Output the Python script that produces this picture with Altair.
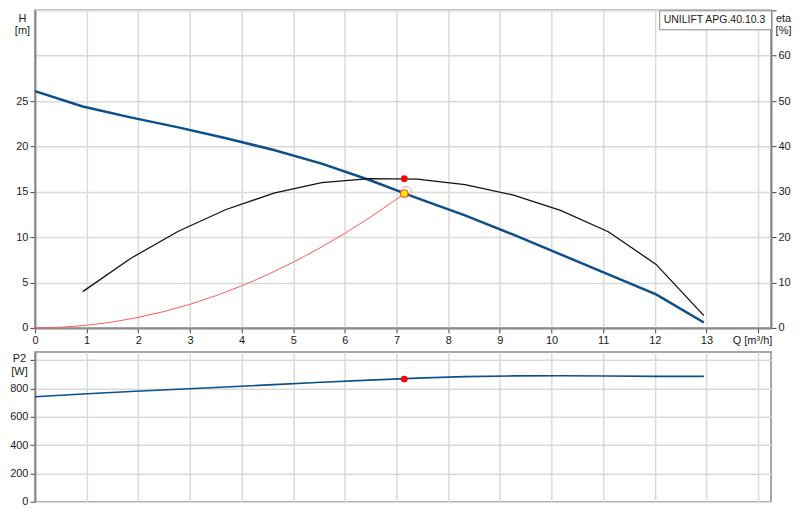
import altair as alt
import pandas as pd

model_name = "UNILIFT APG.40.10.3"

# pump curve nodes (flow in m³/h)
q_nodes = [0, 0.925, 1.85, 2.775, 3.7, 4.625, 5.55, 6.475, 7.4, 8.325, 9.25, 10.175, 11.1, 12.025, 12.95]
head_m = [26.1, 24.4, 23.2, 22.1, 20.9, 19.6, 18.1, 16.3, 14.3, 12.4, 10.3, 8.1, 5.9, 3.7, 0.6]
p2_w = [743, 762, 780, 796, 812, 828, 845, 860, 874, 885, 890, 891, 889, 887, 887]

q_eta = [0.925, 1.85, 2.775, 3.7, 4.625, 5.55, 6.475, 7.4, 8.325, 9.25, 10.175, 11.1, 12.025, 12.95]
eta_pct = [8.0, 15.3, 21.3, 26.1, 29.7, 32.0, 32.9, 32.8, 31.6, 29.3, 25.9, 21.2, 14.0, 2.7]

# system curve (red)
q_sys = [0, 0.5, 1, 1.5, 2, 2.5, 3, 3.5, 4, 4.5, 5, 5.5, 6, 6.5, 7, 7.15]
h_sys = [0, 0.07, 0.29, 0.65, 1.16, 1.81, 2.6, 3.55, 4.63, 5.86, 7.24, 8.76, 10.42, 12.23, 14.19, 14.8]

# duty point
duty_q = [7.15]
duty_h = [14.8]
duty_eta = [32.9]
duty_p2 = [868]

x_ticks = list(range(0, 15))
h_ticks = [0, 5, 10, 15, 20, 25, 30, 35]
eta_ticks = [0, 10, 20, 30, 40, 50, 60, 70]
p2_ticks = [0, 200, 400, 600, 800, 1000]

BLUE = "#0d4f8b"
FONT = "Liberation Sans"
W = 737
TXT = "#1a1a1a"

head_df = pd.DataFrame({"Q": q_nodes, "H": head_m, "name": [model_name] * len(q_nodes)})
p2_df = pd.DataFrame({"Q": q_nodes, "P2": p2_w})
eta_df = pd.DataFrame({"Q": q_eta, "eta": eta_pct})
sys_df = pd.DataFrame({"Q": q_sys, "H": h_sys})
duty_df = pd.DataFrame({"Q": duty_q, "H": duty_h, "eta": duty_eta, "P2": duty_p2})

xscale = alt.Scale(domain=[0, 14.25], nice=False, zero=False)
hscale = alt.Scale(domain=[0, 35], nice=False)
etascale = alt.Scale(domain=[0, 70], nice=False)
p2scale = alt.Scale(domain=[0, 1060], nice=False)

x_top = alt.X(
    "Q:Q", scale=xscale,
    axis=alt.Axis(
        values=x_ticks, labelExpr="datum.value == 14 ? '' : datum.label",
        title="Q [m³/h]", titleX=718, titleY=7, titleBaseline="top", titleAlign="center",
        titleFontWeight="normal", titleFontSize=11, titleFont=FONT, titleColor=TXT,
        grid=True, labelFlush=False,
    ),
)
y_h = alt.Y(
    "H:Q", scale=hscale,
    axis=alt.Axis(
        values=h_ticks, labelExpr="datum.value > 25 ? '' : datum.label",
        tickOpacity={"condition": {"test": "datum.value > 25", "value": 0}, "value": 1},
        title=["H", "[m]"], titleAngle=0, titleX=-13, titleY=2, titleBaseline="top",
        titleAlign="center", titleLineHeight=12, titleFontWeight="normal",
        titleFontSize=11, titleFont=FONT, titleColor=TXT,
        grid=True, labelFlush=False,
    ),
)
y_eta = alt.Y(
    "eta:Q", scale=etascale,
    axis=alt.Axis(
        orient="right", values=eta_ticks,
        labelExpr="datum.value > 60 ? '' : datum.label",
        title=["eta", "[%]"], titleAngle=0, titleX=12, titleY=2, titleBaseline="top",
        titleAlign="center", titleLineHeight=12, titleFontWeight="normal",
        titleFontSize=11, titleFont=FONT, titleColor=TXT,
        grid=False, labelFlush=False,
    ),
)
x_bot = alt.X(
    "Q:Q", scale=xscale,
    axis=alt.Axis(values=x_ticks, labels=False, ticks=False, domain=False, grid=True),
    title=None,
)
y_p2 = alt.Y(
    "P2:Q", scale=p2scale,
    axis=alt.Axis(
        values=p2_ticks, labelExpr="datum.value > 800 ? '' : datum.label",
        title=["P2", "[W]"], titleAngle=0, titleX=-16, titleY=1, titleBaseline="top",
        titleAlign="center", titleLineHeight=13, titleFontWeight="normal",
        titleFontSize=11, titleFont=FONT, titleColor=TXT,
        grid=True, labelFlush=False,
    ),
)

head_line = alt.Chart(head_df).mark_line(strokeWidth=2.5).encode(
    x=x_top,
    y=y_h,
    color=alt.Color(
        "name:N", scale=alt.Scale(range=[BLUE]),
        legend=alt.Legend(
            title=None, orient="top-right", offset=0, fillColor="white",
            strokeColor="#8a8a8a", padding=4, symbolSize=0, symbolStrokeWidth=0,
            symbolOpacity=0, labelOffset={"expr": "-10"}, labelFontSize=10.5, labelFont=FONT,
            labelColor=TXT, cornerRadius=0,
        ),
    ),
)

sys_line = alt.Chart(sys_df).mark_line(strokeWidth=1, color="#ff5a5a").encode(x=x_top, y=y_h)
duty_ring = alt.Chart(duty_df).mark_point(
    shape="circle", size=110, filled=False, color="#ff8080", strokeWidth=1, opacity=0.8,
    xOffset=2, yOffset=-2,
).encode(x=x_top, y=y_h)
duty_dot = alt.Chart(duty_df).mark_circle(
    size=60, color="#ffee00", stroke="#ff3030", strokeWidth=1, opacity=1
).encode(x=x_top, y=y_h)

eta_line = alt.Chart(eta_df).mark_line(strokeWidth=1.3, color="#111111").encode(x=x_top, y=y_eta)
eta_dot = alt.Chart(duty_df).mark_circle(size=45, color="#ff0000", opacity=1).encode(x=x_top, y=y_eta)

left_group = alt.layer(head_line, sys_line, duty_ring, duty_dot)
right_group = alt.layer(eta_line, eta_dot)
top = alt.layer(left_group, right_group).resolve_scale(y="independent").properties(
    width=W, height=318
)

p2_line = alt.Chart(p2_df).mark_line(strokeWidth=1.6, color=BLUE).encode(x=x_bot, y=y_p2)
p2_dot = alt.Chart(duty_df).mark_circle(size=45, color="#ff0000", opacity=1).encode(x=x_bot, y=y_p2)
bottom = alt.layer(p2_line, p2_dot).properties(width=W, height=150)

chart = (
    alt.vconcat(top, bottom, spacing=4)
    .resolve_scale(color="independent")
    .resolve_legend(color="independent")
    .properties(padding=0, background="white")
    .configure_view(stroke="#8a8a8a", strokeWidth=1.5)
    .configure_axis(
        gridColor="#dadada", gridWidth=1.5, domainColor="#8a8a8a", domainWidth=2,
        tickColor="#444444", tickSize=5, tickWidth=1, labelFont=FONT, labelFontSize=11,
        labelColor=TXT, labelPadding=2,
    )
)

chart.save("out.html", embed_options={"renderer": "svg", "actions": False})
